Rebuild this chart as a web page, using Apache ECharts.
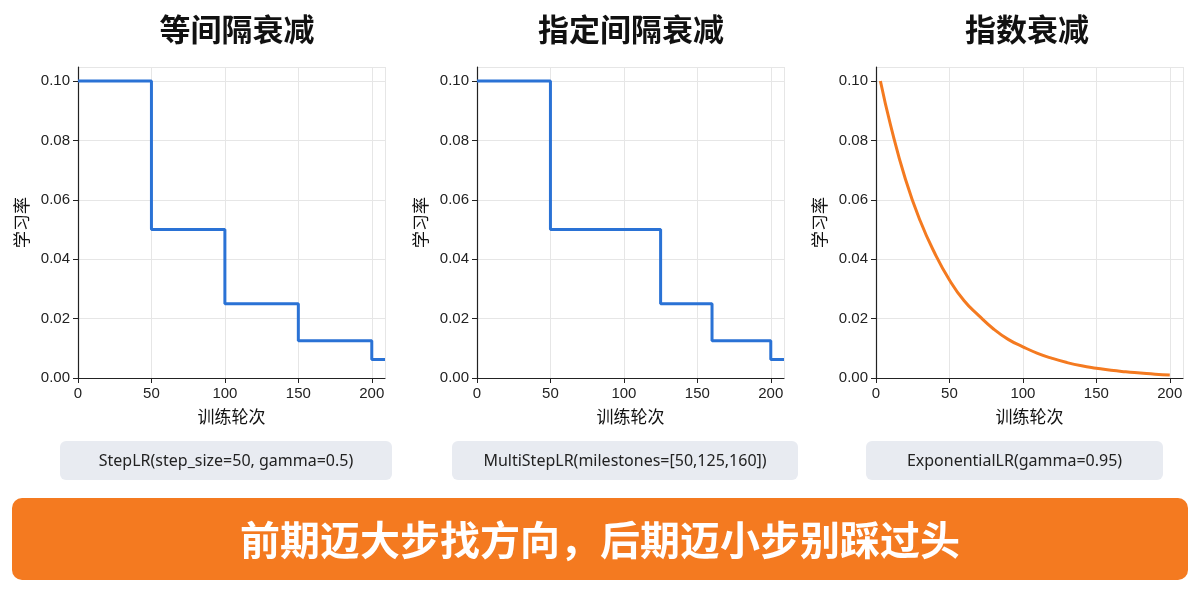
<!DOCTYPE html>
<html><head><meta charset="utf-8">
<script src="https://cdn.jsdelivr.net/npm/echarts@6/dist/echarts.min.js"></script>
<style>html,body{margin:0;background:#fff}#c{width:1200px;height:600px}</style>
</head><body><div id="c"></div>
<script>
const titles = ['等间隔衰减', '指定间隔衰减', '指数衰减'];
const captions = ['StepLR(step_size=50, gamma=0.5)', 'MultiStepLR(milestones=[50,125,160])', 'ExponentialLR(gamma=0.95)'];
const banner = '前期迈大步找方向，后期迈小步别踩过头';
const stepData = [[0,0.1],[50,0.1],[50,0.05],[100,0.05],[100,0.025],[150,0.025],[150,0.0125],[200,0.0125],[200,0.00625],[209,0.00625]];
const multiStepData = [[0,0.1],[50,0.1],[50,0.05],[125,0.05],[125,0.025],[160,0.025],[160,0.0125],[200,0.0125],[200,0.00625],[209,0.00625]];
const expX = [3,10,20,30,40,50,60,70,80,90,100,110,120,130,140,150,160,170,180,190,200];
const expY = [0.1,0.085,0.067,0.053,0.042,0.033,0.026,0.021,0.0165,0.013,0.0105,0.0083,0.0066,0.0052,0.0041,0.0033,0.0026,0.0021,0.0017,0.0013,0.001];
const yTicks = ['0.00','0.02','0.04','0.06','0.08','0.10'];

const lefts = [78, 477, 876];
const grids = lefts.map(l => ({left: l, width: 307, top: 67, height: 311}));
const xAxes = lefts.map((l,i) => ({gridIndex:i, type:'value', min:0, max:209, interval:50,
  name:'训练轮次', nameLocation:'middle', nameGap:30, nameTextStyle:{fontSize:17, color:'#111', fontFamily:'Noto Sans CJK SC'},
  axisLine:{show:true,lineStyle:{color:'#222',width:1.2}}, axisTick:{show:true,lineStyle:{color:'#222'}},
  axisLabel:{fontSize:15,color:'#222',showMaxLabel:false,formatter:v=>v%50===0?String(v):''},
  splitLine:{show:true,lineStyle:{color:'#e6e6e6'}}}));
const yAxes = lefts.map((l,i) => ({gridIndex:i, type:'value', min:0, max:0.1047, interval:0.02,
  name:'学习率', nameLocation:'middle', nameGap:48, nameTextStyle:{fontSize:17, color:'#111', fontFamily:'Noto Sans CJK SC'},
  axisLine:{show:true,lineStyle:{color:'#222',width:1.2}}, axisTick:{show:true,lineStyle:{color:'#222'}},
  axisLabel:{fontSize:15,color:'#222',showMaxLabel:false,formatter:v=>yTicks[Math.round(v/0.02)]||''},
  splitLine:{show:true,lineStyle:{color:'#e6e6e6'}}}));
const blue = '#2a72d5', orange = '#f47a20';
const series = [
  {type:'line', xAxisIndex:0, yAxisIndex:0, data:stepData, symbol:'none', lineStyle:{color:blue,width:3}},
  {type:'line', xAxisIndex:1, yAxisIndex:1, data:multiStepData, symbol:'none', lineStyle:{color:blue,width:3}},
  {type:'line', xAxisIndex:2, yAxisIndex:2, data:expX.map((x,i)=>[x,expY[i]]), symbol:'none', smooth:true, lineStyle:{color:orange,width:3}}
];
const titleX = [237, 631, 1027];
const boxes = [[60,332],[452,346],[866,297]];
const graphic = [];
titleX.forEach((c,i)=>{
  graphic.push({type:'text', x:c, y:14, style:{text:titles[i], fill:'#111', font:'bold 31px "Noto Sans CJK SC"', textAlign:'center'}});
  const [bx,bw] = boxes[i];
  graphic.push({type:'rect', shape:{x:bx, y:441, width:bw, height:39, r:6}, style:{fill:'#e8ebf1'}});
  graphic.push({type:'text', x:bx+bw/2, y:461, style:{text:captions[i], fill:'#222', font:'16px "Noto Sans"', textAlign:'center', textVerticalAlign:'middle'}});
});
graphic.push({type:'rect', shape:{x:12, y:498, width:1176, height:82, r:10}, style:{fill:orange}});
graphic.push({type:'text', x:600, y:540, style:{text:banner, fill:'#fff', font:'bold 40px "Noto Sans CJK SC"', textAlign:'center', textVerticalAlign:'middle'}});
const chart = echarts.init(document.getElementById('c'));
chart.setOption({animation:false, grid:grids, xAxis:xAxes, yAxis:yAxes, series, graphic});
</script></body></html>
